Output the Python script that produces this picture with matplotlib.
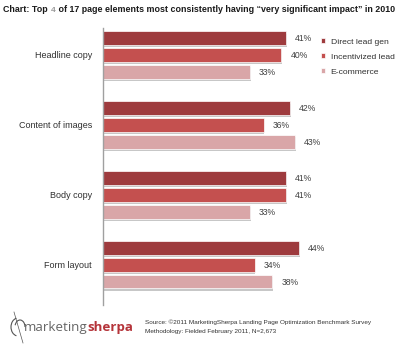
import matplotlib
matplotlib.use("Agg")
import matplotlib.pyplot as plt
import matplotlib.patheffects as pe
from matplotlib.patches import Arc
import numpy as np

# data
categories = ["Headline copy", "Content of images", "Body copy", "Form layout"]
series = ["Direct lead gen", "Incentivized lead", "E-commerce"]
direct_lead = [41, 42, 41, 44]
incentivized = [40, 36, 41, 34]
ecommerce = [33, 43, 33, 38]

colors = ["#9e3b3e", "#c4504f", "#d9a6a8"]
plt.rcParams['font.family'] = ['Liberation Sans', 'DejaVu Sans']

fig = plt.figure(figsize=(4, 3.55), dpi=100)
W, H = 400, 355

# axes from x=103px to the right edge, y=28px..305px
ax = fig.add_axes([103 / W, (H - 305) / H, (W - 103) / W, (305 - 28) / H])

group_step = 4.15
bar_h = 0.8
shadow = [pe.SimplePatchShadow(offset=(0.6, -1.6), shadow_rgbFace='#9a9a9a', alpha=0.55), pe.Normal()]

values = [direct_lead, incentivized, ecommerce]
g = np.arange(len(categories))
handles = []
for j, (vals, col, name) in enumerate(zip(values, colors, series)):
    y = g * group_step + j
    bars = ax.barh(y, vals, height=bar_h, color=col, edgecolor='white', linewidth=0.5,
                   label=name, path_effects=shadow)
    handles.append(bars)
    for yy, v in zip(y, vals):
        ax.text(v + 2.0, yy + 0.05, f"{v}%", va='center', ha='left', fontsize=6.2, color='#404040')

ax.set_xlim(0, (W - 103) / 4.46)
ax.set_ylim(15.83, -0.6)
ax.set_yticks(g * group_step + 1)
ax.set_yticklabels(categories, fontsize=6.5, color='#303030')
ax.tick_params(axis='y', length=0, pad=8)
ax.set_xticks([])
for s in ['top', 'right', 'bottom']:
    ax.spines[s].set_visible(False)
ax.spines['left'].set_color('#a0a0a0')
ax.spines['left'].set_linewidth(1.0)

leg = ax.legend(handles=handles, loc='upper left', bbox_to_anchor=(317 / W, (H - 34) / H),
                bbox_transform=fig.transFigure, frameon=False, fontsize=6.1,
                handlelength=0.5, handleheight=0.5, handletextpad=0.6, labelspacing=0.9,
                borderpad=0)
for t in leg.get_texts():
    t.set_color('#303030')
for h in leg.legend_handles:
    h.set_path_effects([])

# title with a lighter "4"
t1 = fig.text(3 / W, (H - 14) / H, "Chart: Top ", fontsize=6.4, fontweight='bold',
              va='bottom', ha='left', color='#1a1a1a')
t2 = ax.annotate("4", xycoords=t1, xy=(1, 0), xytext=(0.8, 0), textcoords='offset points',
                 va='bottom', ha='left', fontsize=6.0,
                 color='#9a9a9a', fontweight='bold', annotation_clip=False)
ax.annotate(" of 17 page elements most consistently having \u201cvery significant impact\u201d in 2010",
            xycoords=t2, xy=(1, 0), va='bottom', ha='left', fontsize=6.4,
            fontweight='bold', color='#1a1a1a', annotation_clip=False)

# footer logo
logo_ax = fig.add_axes([0, 0, 1, 1], facecolor='none')
logo_ax.set_xlim(0, W)
logo_ax.set_ylim(H, 0)
logo_ax.axis('off')
logo_ax.add_patch(Arc((18, 327), 14, 18, theta1=100, theta2=260, color='#555555', lw=0.8))
logo_ax.plot([14, 23], [312, 343], color='#555555', lw=0.5)
logo_ax.add_patch(Arc((20, 327), 10, 14, theta1=200, theta2=360, color='#555555', lw=0.8))
fm = fig.text(24 / W, (H - 327) / H, "marketing", fontsize=9.6, color='#666666',
              family=['Open Sans', 'DejaVu Sans'], va='center', ha='left')
ax.annotate("sherpa", xycoords=fm, xy=(1, 0.5), va='center', ha='left', fontsize=9.6,
            fontweight='bold', color='#b5343a', family=['Open Sans', 'DejaVu Sans'],
            annotation_clip=False)
fig.text(145 / W, (H - 322) / H, "Source: \u00a92011 MarketingSherpa Landing Page Optimization Benchmark Survey",
         fontsize=4.6, color='#333333', va='center', ha='left')
fig.text(145 / W, (H - 332) / H, "Methodology: Fielded February 2011, N=2,673",
         fontsize=4.6, color='#333333', va='center', ha='left')

fig.savefig("out.png", dpi=100, facecolor='white')
